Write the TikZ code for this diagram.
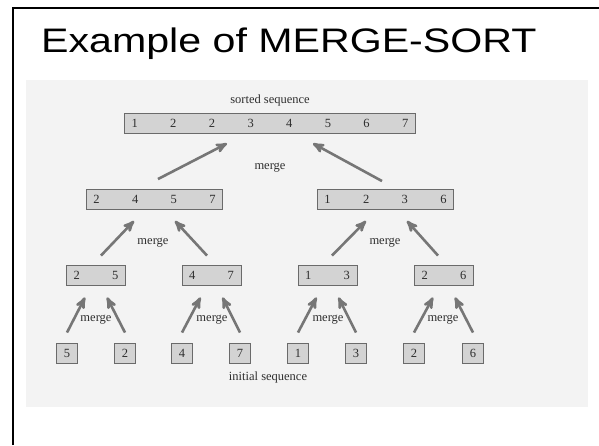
\documentclass[tikz,border=0pt]{standalone}
\usepackage{fontspec}
\setmainfont{Liberation Serif}
\newfontfamily\titlefont[FakeStretch=1.21]{Liberation Sans}
\usetikzlibrary{arrows}
\definecolor{panelgray}{HTML}{F3F3F3}
\definecolor{boxgray}{HTML}{D3D3D3}
\definecolor{edgegray}{HTML}{6A6A6A}
\definecolor{inkgray}{HTML}{2E2E2E}
\definecolor{arrowgray}{HTML}{767676}
\newcommand{\dgap}{\hspace{32.4pt}}

\begin{document}
\begin{tikzpicture}[
    x=1pt, y=-1pt,
    seqbox/.style={draw=edgegray, fill=boxgray, line width=0.9pt,
    minimum height=20pt, inner xsep=7pt, inner ysep=0pt, text=inkgray,
    font=\fontsize{12.5}{14}\selectfont},
    label text/.style={text=inkgray, font=\fontsize{12.5}{14}\selectfont},
    merge arrow/.style={line width=2.6pt, draw=arrowgray, ->, >=stealth'},
    ]
    \useasboundingbox (0,0) rectangle (599,445);
    % slide frame and panel
    \draw[line width=2pt] (13,445) -- (13,7.5) -- (599,7.5);
    \fill[panelgray] (26,80) rectangle (588,407);
    \node[anchor=base west, inner sep=0pt,
        font=\titlefont\fontsize{34}{40}\selectfont] (title) at (41,52)
        {Example of MERGE-SORT};
    % sorted sequence
    \node[label text] (sortedlabel) at (270,100) {sorted sequence};
    \node[seqbox] (top) at (270,123)
        {1\dgap 2\dgap 2\dgap 3\dgap 4\dgap 5\dgap 6\dgap 7};
    % second level
    \node[seqbox] (l2a) at (154.5,199.5) {2\dgap 4\dgap 5\dgap 7};
    \node[seqbox] (l2b) at (385.5,199.5) {1\dgap 2\dgap 3\dgap 6};
    % third level
    \node[seqbox] (n25) at (96,275) {2\dgap 5};
    \node[seqbox] (n47) at (211.5,275) {4\dgap 7};
    \node[seqbox] (n13) at (327.5,275) {1\dgap 3};
    \node[seqbox] (n26) at (444,275) {2\dgap 6};
    % initial sequence
    \node[seqbox] (leaf5) at (67,353) {5};
    \node[seqbox] (leaf2) at (125,353) {2};
    \node[seqbox] (leaf4) at (182,353) {4};
    \node[seqbox] (leaf7) at (240,353) {7};
    \node[seqbox] (leaf1) at (298,353) {1};
    \node[seqbox] (leaf3) at (356,353) {3};
    \node[seqbox] (leafb) at (414,353) {2};
    \node[seqbox] (leaf6) at (473,353) {6};
    \node[label text] (initlabel) at (268,377) {initial sequence};
    % merge labels
    \node[label text] (mtop) at (270,168) {merge};
    \node[label text] (mleft) at (153,243) {merge};
    \node[label text] (mright) at (385,243) {merge};
    \node[label text] (m1) at (96,320) {merge};
    \node[label text] (m2) at (212,320) {merge};
    \node[label text] (m3) at (328,320) {merge};
    \node[label text] (m4) at (443,320) {merge};
    % top merge
    \draw[merge arrow] ([xshift=3.5pt,yshift=10pt]l2a.north)
        -- ([xshift=-43pt,yshift=-10pt]top.south);
    \draw[merge arrow] ([xshift=-3.5pt,yshift=8pt]l2b.north)
        -- ([xshift=43pt,yshift=-10pt]top.south);
    % middle merges
    \draw[merge arrow] ([xshift=5pt,yshift=9pt]n25.north)
        -- ([xshift=-20.5pt,yshift=-11pt]l2a.south);
    \draw[merge arrow] ([xshift=-4.5pt,yshift=9pt]n47.north)
        -- ([xshift=20.5pt,yshift=-11pt]l2a.south);
    \draw[merge arrow] ([xshift=4.5pt,yshift=9pt]n13.north)
        -- ([xshift=-19.5pt,yshift=-11pt]l2b.south);
    \draw[merge arrow] ([xshift=-6pt,yshift=9pt]n26.north)
        -- ([xshift=21.5pt,yshift=-11pt]l2b.south);
    % bottom merges
    \draw[merge arrow] ([yshift=10pt]leaf5.north)
        -- ([xshift=-11pt,yshift=-12pt]n25.south);
    \draw[merge arrow] ([yshift=10pt]leaf2.north)
        -- ([xshift=11pt,yshift=-12pt]n25.south);
    \draw[merge arrow] ([yshift=10pt]leaf4.north)
        -- ([xshift=-11pt,yshift=-12pt]n47.south);
    \draw[merge arrow] ([yshift=10pt]leaf7.north)
        -- ([xshift=11pt,yshift=-12pt]n47.south);
    \draw[merge arrow] ([yshift=10pt]leaf1.north)
        -- ([xshift=-11pt,yshift=-12pt]n13.south);
    \draw[merge arrow] ([yshift=10pt]leaf3.north)
        -- ([xshift=11pt,yshift=-12pt]n13.south);
    \draw[merge arrow] ([yshift=10pt]leafb.north)
        -- ([xshift=-11pt,yshift=-12pt]n26.south);
    \draw[merge arrow] ([yshift=10pt]leaf6.north)
        -- ([xshift=11pt,yshift=-12pt]n26.south);
\end{tikzpicture}
\end{document}
